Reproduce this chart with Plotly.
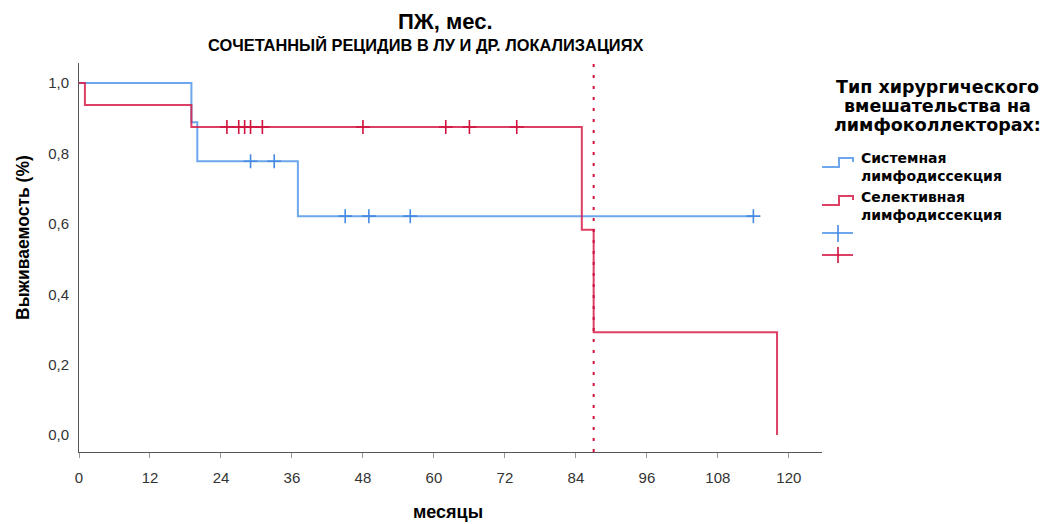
import plotly.graph_objects as go

# Kaplan–Meier step data (months, survival probability)
sys_time = [0, 19, 20, 37, 114]
sys_surv = [1.0, 0.889, 0.778, 0.622, 0.622]
sys_cens = [29, 33, 45, 49, 56, 114]

sel_time = [0, 1, 19, 85, 87, 118]
sel_surv = [1.0, 0.9375, 0.875, 0.583, 0.292, 0.0]
sel_cens = [25, 27, 28, 29, 31, 48, 62, 66, 74]

sel_median = 87

x_ticks = [0, 12, 24, 36, 48, 60, 72, 84, 96, 108, 120]
y_ticks = [0.0, 0.2, 0.4, 0.6, 0.8, 1.0]
y_ticktext = ["0,0", "0,2", "0,4", "0,6", "0,8", "1,0"]

BLUE = "rgba(84,150,232,0.85)"
BLUE_M = "rgb(70,138,228)"
RED = "rgba(214,30,74,0.85)"
RED_M = "rgb(208,18,62)"
FONT = "Liberation Sans, Arial, sans-serif"
LEG_FONT = "DejaVu Sans, Liberation Sans, sans-serif"

W, H = 1046, 524
L, R, T, B = 79, 224, 63, 72
PW, PH = W - L - R, H - T - B


def px(x):
    return (x - L) / PW


def py(y):
    return (H - B - y) / PH


def step_value(times, surv, t):
    v = surv[0]
    for ti, si in zip(times, surv):
        if ti <= t:
            v = si
    return v


fig = go.Figure()

fig.add_trace(go.Scatter(x=sys_time, y=sys_surv, mode="lines",
                         line=dict(color=BLUE, width=2, shape="hv"),
                         hoverinfo="skip", showlegend=False))
fig.add_trace(go.Scatter(x=sel_time, y=sel_surv, mode="lines",
                         line=dict(color=RED, width=2, shape="hv"),
                         hoverinfo="skip", showlegend=False))
fig.add_trace(go.Scatter(x=sys_cens, y=[step_value(sys_time, sys_surv, t) for t in sys_cens],
                         mode="markers",
                         marker=dict(symbol="cross-thin", size=10,
                                     line=dict(color=BLUE_M, width=1.6)),
                         hoverinfo="skip", showlegend=False))
fig.add_trace(go.Scatter(x=sel_cens, y=[step_value(sel_time, sel_surv, t) for t in sel_cens],
                         mode="markers",
                         marker=dict(symbol="cross-thin", size=10,
                                     line=dict(color=RED_M, width=1.6)),
                         hoverinfo="skip", showlegend=False))

x_range = [0, 125.6]
y_range = [-0.048, 1.057]

shapes = [
    # median survival marker line
    dict(type="line", xref="x", yref="paper", x0=sel_median, x1=sel_median, y0=0, y1=1,
         line=dict(color=RED_M, width=2, dash="3px,8px")),
    # legend icons
    dict(type="path", xref="paper", yref="paper",
         path=f"M{px(822)},{py(167)} L{px(839)},{py(167)} L{px(839)},{py(158)} "
              f"L{px(853)},{py(158)} L{px(853)},{py(162)}",
         line=dict(color=BLUE, width=2)),
    dict(type="path", xref="paper", yref="paper",
         path=f"M{px(822)},{py(205)} L{px(839)},{py(205)} L{px(839)},{py(196)} "
              f"L{px(853)},{py(196)} L{px(853)},{py(200)}",
         line=dict(color=RED, width=2)),
    dict(type="line", xref="paper", yref="paper", x0=px(822), x1=px(853), y0=py(233), y1=py(233),
         line=dict(color=BLUE, width=2)),
    dict(type="line", xref="paper", yref="paper", x0=px(838), x1=px(838), y0=py(225), y1=py(242),
         line=dict(color=BLUE_M, width=1.6)),
    dict(type="line", xref="paper", yref="paper", x0=px(822), x1=px(853), y0=py(255), y1=py(255),
         line=dict(color=RED, width=2)),
    dict(type="line", xref="paper", yref="paper", x0=px(838), x1=px(838), y0=py(247), y1=py(263),
         line=dict(color=RED_M, width=1.6)),
]


def ann(text, x, y, size, family=FONT, xanchor="center", yanchor="middle", angle=0):
    return dict(text=f"<b>{text}</b>", x=px(x), y=py(y),
                xref="paper", yref="paper", xanchor=xanchor, yanchor=yanchor,
                showarrow=False, textangle=angle,
                font=dict(family=family, size=size, color="#000"))


annotations = [
    ann("ПЖ, мес.", 445, 21, 22),
    ann("СОЧЕТАННЫЙ РЕЦИДИВ В ЛУ И ДР. ЛОКАЛИЗАЦИЯХ", 425, 45, 16.4),
    ann("Выживаемость (%)", 23, 238, 17.5, angle=-90),
    ann("месяцы", 448, 524, 18, yanchor="bottom"),
    ann("Тип хирургического", 937, 87, 17.5, family=LEG_FONT),
    ann("вмешательства на", 937, 106, 17.5, family=LEG_FONT),
    ann("лимфоколлекторах:", 937, 125, 17.5, family=LEG_FONT),
    ann("Системная", 859, 158, 14, family=LEG_FONT, xanchor="left"),
    ann("лимфодиссекция", 859, 176, 14, family=LEG_FONT, xanchor="left"),
    ann("Селективная", 859, 197, 14, family=LEG_FONT, xanchor="left"),
    ann("лимфодиссекция", 859, 215, 14, family=LEG_FONT, xanchor="left"),
]

fig.update_layout(
    width=W, height=H,
    margin=dict(l=L, r=R, t=T, b=B, pad=0),
    paper_bgcolor="white", plot_bgcolor="white",
    font=dict(family=FONT, size=15, color="#333"),
    showlegend=False,
    xaxis=dict(range=x_range, tickvals=x_ticks, ticks="outside", ticklen=5,
               tickcolor="#999", tickwidth=1, showline=True, linecolor="#555",
               linewidth=1, showgrid=False, zeroline=False, ticklabelstandoff=7,
               tickfont=dict(family=FONT, size=15, color="#333")),
    xaxis2=dict(range=x_range, overlaying="x", anchor="y", side="bottom",
                tickvals=x_ticks, ticks="inside", ticklen=5, tickcolor="#999",
                tickwidth=1, showticklabels=False, showline=False,
                showgrid=False, zeroline=False),
    yaxis=dict(range=y_range, tickvals=y_ticks, ticktext=y_ticktext, ticks="",
               showline=True, linecolor="#555", linewidth=1, showgrid=False,
               zeroline=False, ticklabelstandoff=6,
               tickfont=dict(family=FONT, size=15, color="#333")),
    shapes=shapes,
    annotations=annotations,
)

fig.write_html("out.html")
